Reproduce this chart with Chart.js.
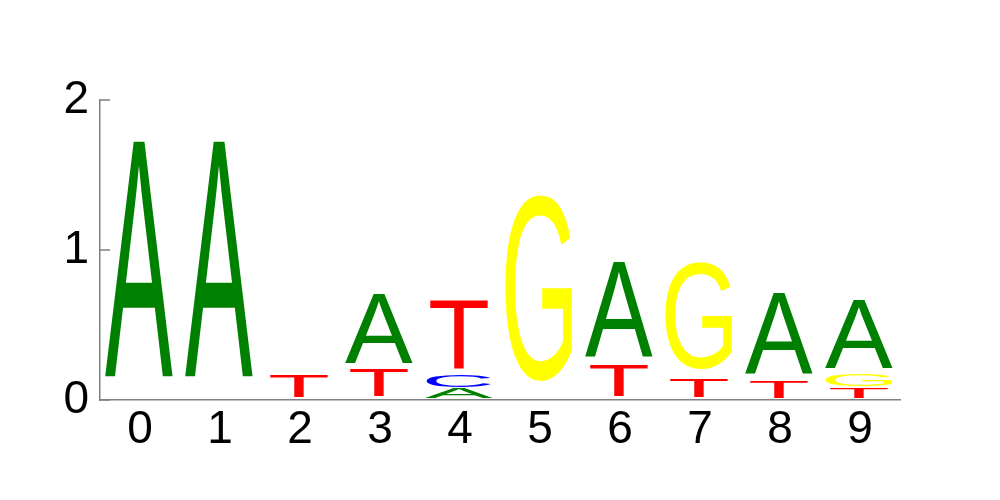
<!DOCTYPE html>
<html>
<head>
<meta charset="utf-8">
<script src="https://cdn.jsdelivr.net/npm/chart.js@4.4.1/dist/chart.umd.min.js"></script>
<style>
  html, body { margin: 0; padding: 0; background: #fff; }
  #wrap { width: 1000px; height: 500px; }
</style>
</head>
<body>
<div id="wrap"><canvas id="logoChart" width="1000" height="500"></canvas></div>
<script>
// positions of the motif
const positions = ['0', '1', '2', '3', '4', '5', '6', '7', '8', '9'];

// letter heights (bits) per position
const heightsA = [1.727, 1.727, 0, 0.507, 0.078, 0, 0.695, 0, 0.589, 0.5];
const heightsC = [0, 0, 0, 0, 0.082, 0, 0, 0, 0, 0];
const heightsG = [0, 0, 0, 0, 0, 1.367, 0, 0.783, 0, 0.085];
const heightsT = [0, 0, 0.167, 0.2, 0.502, 0, 0.227, 0.133, 0.122, 0.082];

const yTicks = [0, 1, 2];

const letterColors = { A: '#008000', C: '#0000ff', G: '#ffff00', T: '#ff0000' };

// stacks: smallest letter at the bottom, one dataset per layer
const byLetter = { A: heightsA, C: heightsC, G: heightsG, T: heightsT };
const layers = [];
positions.forEach((p, i) => {
    const col = Object.keys(byLetter)
        .map(l => ({ letter: l, h: byLetter[l][i] }))
        .filter(o => o.h > 0)
        .sort((a, b) => a.h - b.h);
    col.forEach((o, r) => {
        if (!layers[r]) {
            layers[r] = { data: positions.map(() => 0), letters: positions.map(() => null) };
        }
        layers[r].data[i] = o.h;
        layers[r].letters[i] = o.letter;
    });
});

const datasets = layers.map((l, r) => ({
    label: 'layer ' + r,
    data: l.data,
    letters: l.letters,
    backgroundColor: 'rgba(0,0,0,0)',
    borderWidth: 0,
    barPercentage: 1,
    categoryPercentage: 1
}));

// draw each letter stretched into its bar
const glyphFont = '"Liberation Sans", Arial, sans-serif';
const letterPlugin = {
    id: 'letters',
    afterDatasetsDraw(chart) {
        const ctx = chart.ctx;
        ctx.save();
        ctx.font = '100px ' + glyphFont;
        ctx.textBaseline = 'alphabetic';
        ctx.textAlign = 'left';
        const ref = ctx.measureText('A');
        const refW = ref.actualBoundingBoxLeft + ref.actualBoundingBoxRight;
        chart.data.datasets.forEach((ds, di) => {
            const meta = chart.getDatasetMeta(di);
            meta.data.forEach((bar, i) => {
                const letter = ds.letters[i];
                if (!letter || !ds.data[i]) return;
                const p = bar.getProps(['x', 'y', 'base', 'width'], true);
                const m = ctx.measureText(letter);
                const L = m.actualBoundingBoxLeft, R = m.actualBoundingBoxRight;
                const asc = m.actualBoundingBoxAscent, desc = m.actualBoundingBoxDescent;
                const sx = (p.width * 0.85) / refW;
                const top = p.y;
                const bottom = p.base - (p.base - p.y) * 0.09;
                const sy = (bottom - top) / (asc + desc);
                ctx.save();
                ctx.translate(p.x - 1, top);
                ctx.scale(sx, sy);
                ctx.fillStyle = letterColors[letter];
                ctx.fillText(letter, -(R - L) / 2, asc);
                ctx.restore();
            });
        });
        ctx.restore();
    }
};

// short tick marks on the inside of the y axis
const innerTicks = {
    id: 'innerTicks',
    afterDraw(chart) {
        const ctx = chart.ctx;
        const y = chart.scales.y;
        ctx.save();
        ctx.strokeStyle = '#808080';
        ctx.lineWidth = 1.5;
        y.ticks.forEach(t => {
            const py = y.getPixelForValue(t.value);
            ctx.beginPath();
            ctx.moveTo(y.right, py);
            ctx.lineTo(y.right + 10, py);
            ctx.stroke();
        });
        ctx.restore();
    }
};

new Chart(document.getElementById('logoChart'), {
    type: 'bar',
    data: { labels: positions, datasets: datasets },
    plugins: [letterPlugin, innerTicks],
    options: {
        responsive: false,
        animation: false,
        events: [],
        layout: { padding: { top: 100, right: 100, left: 0, bottom: 0 } },
        plugins: { legend: { display: false }, tooltip: { enabled: false } },
        scales: {
            x: {
                stacked: true,
                grid: { drawOnChartArea: false, drawTicks: false },
                border: { display: true, color: '#808080', width: 1.5 },
                ticks: { color: '#000', padding: 3, font: { family: glyphFont, size: 46 } },
                afterFit(scale) { scale.height = 100; }
            },
            y: {
                stacked: true,
                min: 0,
                max: 2,
                afterBuildTicks(scale) { scale.ticks = yTicks.map(v => ({ value: v })); },
                grid: { drawOnChartArea: false, drawTicks: false },
                border: { display: true, color: '#808080', width: 1.5 },
                ticks: { color: '#000', padding: 11, font: { family: glyphFont, size: 46 } },
                afterFit(scale) { scale.width = 100; }
            }
        }
    }
});
</script>
</body>
</html>
